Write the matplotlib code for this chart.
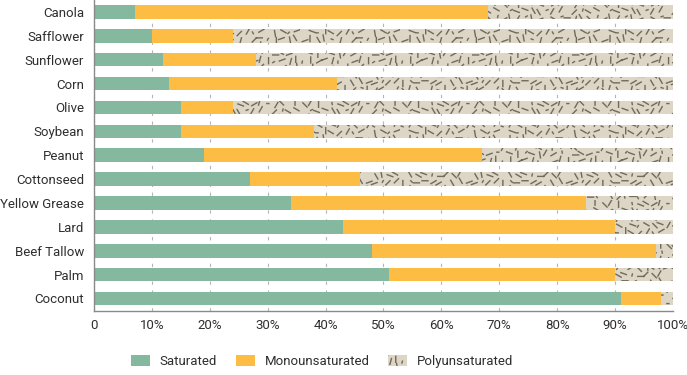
import numpy as np
import matplotlib
matplotlib.use("Agg")
import matplotlib.pyplot as plt
import matplotlib.hatch as mhatch
from matplotlib.path import Path
from matplotlib.patches import Patch

# data (percent of total fat)
oils = ["Coconut", "Palm", "Beef Tallow", "Lard", "Yellow Grease", "Cottonseed",
        "Peanut", "Soybean", "Olive", "Corn", "Sunflower", "Safflower", "Canola"]
saturated = [91, 51, 48, 43, 34, 27, 19, 15, 15, 13, 12, 10, 7]
monounsaturated = [7, 39, 49, 47, 51, 19, 48, 23, 9, 29, 16, 14, 61]
polyunsaturated = [2, 10, 3, 10, 15, 54, 33, 62, 76, 58, 72, 76, 32]
tick_labels = ["0", "10%", "20%", "30%", "40%", "50%", "60%", "70%", "80%", "90%", "100%"]

GREEN = "#84b89f"
YELLOW = "#fdbd45"
BEIGE = "#ddd6c6"
DASH = "#6f6a5a"


# custom hatch: short dashes in mixed directions (texture for polyunsaturated)
class DashHatch(mhatch.HatchPatternBase):
    def __init__(self, hatch, density):
        n = 14
        angles = np.deg2rad([0, 60, 90, 120, 150, 30, 45, 135, 20, 100, 160, 75])
        segs = []
        for i in range(n):
            for j in range(n):
                if (i * 5 + j * 3) % 9 == 0:
                    continue
                cx = (i + 0.5) / n + (((i * 7 + j * 3) % 5) - 2) * 0.007
                cy = (j + 0.5) / n + (((i * 3 + j * 5) % 5) - 2) * 0.007
                a = angles[(i * 3 + j * 7 + (i * j) % 5) % len(angles)]
                h = 0.03 if (i + 2 * j) % 5 else 0.01
                segs.append([cx - h * np.cos(a), cy - h * np.sin(a)])
                segs.append([cx + h * np.cos(a), cy + h * np.sin(a)])
        self.segs = np.array(segs)
        self.num_vertices = len(segs) if "k" in hatch else 0

    def set_vertices_and_codes(self, vertices, codes):
        vertices[:] = self.segs
        codes[0::2] = Path.MOVETO
        codes[1::2] = Path.LINETO


mhatch._hatch_types.append(DashHatch)

plt.rcParams["font.family"] = ["Roboto", "DejaVu Sans"]
plt.rcParams["hatch.linewidth"] = 1.0
FS = 9.5

fig = plt.figure(figsize=(6.87, 3.75), dpi=100)
ax = fig.add_axes([0.1368, 0.1707, 0.9796 - 0.1368, 0.8293])

y = np.arange(len(oils))
h = 0.57
sat = np.array(saturated)
mono = np.array(monounsaturated)
ax.barh(y, sat, height=h, color=GREEN, linewidth=0, zorder=2)
ax.barh(y, mono, left=sat, height=h, color=YELLOW, linewidth=0, zorder=2)
ax.barh(y, polyunsaturated, left=sat + mono, height=h, facecolor=BEIGE,
        edgecolor=DASH, hatch="k", linewidth=0, zorder=2)

ax.set_xlim(0, 100)
ax.set_ylim(-0.525, len(oils) - 0.5)
ax.set_yticks(y)
ax.set_yticklabels(oils, fontsize=FS, color="#2e2e2e")
ax.set_xticks(np.arange(0, 101, 10))
ax.set_xticklabels(tick_labels, fontsize=FS, color="#2e2e2e")
ax.tick_params(axis="y", length=0, pad=7)
ax.tick_params(axis="x", length=0, pad=6)

ax.grid(axis="x", color="#b5b5b5", linewidth=0.8, linestyle=(0, (3, 5)))
ax.set_axisbelow(True)
for s in ["top", "right"]:
    ax.spines[s].set_visible(False)
for s in ["left", "bottom"]:
    ax.spines[s].set_color("#8a8a8a")
    ax.spines[s].set_linewidth(1.0)

handles = [
    Patch(facecolor=GREEN, linewidth=0, label="Saturated"),
    Patch(facecolor=YELLOW, linewidth=0, label="Monounsaturated"),
    Patch(facecolor=BEIGE, edgecolor=DASH, hatch="k", linewidth=0, label="Polyunsaturated"),
]
fig.legend(handles=handles, loc="center", bbox_to_anchor=(0.469, 0.035), ncol=3,
           frameon=False, fontsize=FS, handlelength=1.45, handleheight=0.9,
           handletextpad=0.75, columnspacing=1.4, labelcolor="#2e2e2e")

fig.savefig("out.png", dpi=100)
